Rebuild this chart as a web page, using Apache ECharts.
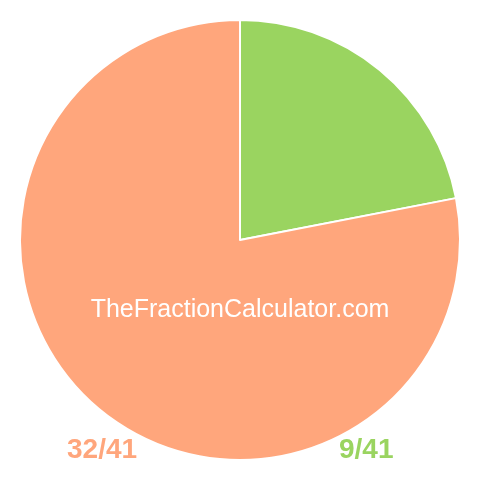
<!DOCTYPE html>
<html>
<head>
<meta charset="utf-8">
<script src="https://cdn.jsdelivr.net/npm/echarts@6/dist/echarts.min.js"></script>
<style>html,body{margin:0;padding:0;background:#fff;}#c{width:480px;height:480px;}</style>
</head>
<body>
<div id="c"></div>
<script>
var categories = ['9/41', '32/41'];
var values = [9, 32];
var colors = ['#9AD460', '#FFA67C'];
var watermark = 'TheFractionCalculator.com';

var chart = echarts.init(document.getElementById('c'), null, {renderer: 'canvas'});
chart.setOption({
  animation: false,
  series: [{
    type: 'pie',
    z: 1,
    center: [240, 240],
    radius: [0, 220],
    startAngle: 90,
    clockwise: true,
    label: {show: false},
    labelLine: {show: false},
    emphasis: {disabled: true},
    itemStyle: {borderColor: '#fff', borderWidth: 2},
    data: categories.map(function (c, i) {
      return {name: c, value: values[i], itemStyle: {color: colors[i]}};
    })
  }],
  graphic: {
    elements: [
      {type: 'text', z: 100, x: 240, y: 310, style: {text: watermark, fill: '#fff', font: '25px "Liberation Sans", Arial, sans-serif', textAlign: 'center', textVerticalAlign: 'middle'}},
      {type: 'text', z: 100, x: 67, y: 450, style: {text: categories[1], fill: colors[1], font: 'bold 28px "Liberation Sans", Arial, sans-serif', textAlign: 'left', textVerticalAlign: 'middle'}},
      {type: 'text', z: 100, x: 339, y: 450, style: {text: categories[0], fill: colors[0], font: 'bold 28px "Liberation Sans", Arial, sans-serif', textAlign: 'left', textVerticalAlign: 'middle'}}
    ]
  }
});
</script>
</body>
</html>
